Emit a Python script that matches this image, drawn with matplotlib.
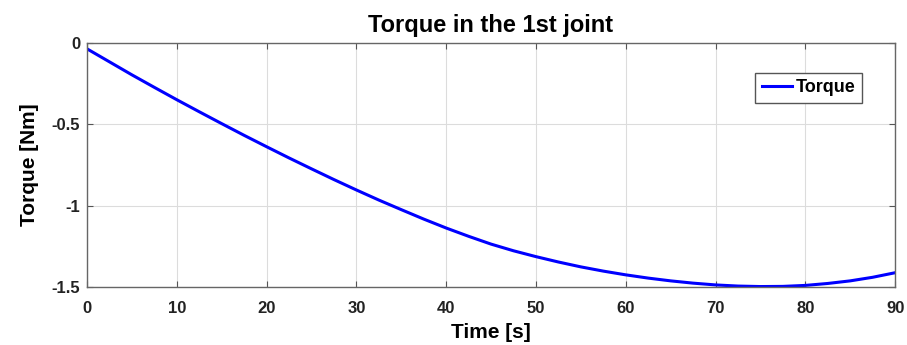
import numpy as np
import matplotlib.pyplot as plt

plt.rcParams['font.family'] = ['Liberation Sans', 'DejaVu Sans']

# time [s] and torque [Nm]
t = [0, 2.5, 5, 7.5, 10, 12.5, 15, 17.5, 20, 22.5, 25, 27.5, 30, 32.5, 35, 37.5,
     40, 42.5, 45, 47.5, 50, 52.5, 55, 57.5, 60, 62.5, 65, 67.5, 70, 72.5, 75,
     77.5, 80, 82.5, 85, 87.5, 90]
torque = [-0.035, -0.115, -0.195, -0.272, -0.348, -0.422, -0.495, -0.567, -0.637,
          -0.706, -0.773, -0.839, -0.903, -0.965, -1.024, -1.082, -1.137, -1.188,
          -1.236, -1.277, -1.313, -1.346, -1.376, -1.402, -1.425, -1.445, -1.462,
          -1.476, -1.487, -1.494, -1.497, -1.496, -1.490, -1.478, -1.462, -1.440,
          -1.412]

xticks = [0, 10, 20, 30, 40, 50, 60, 70, 80, 90]
yticks = [0, -0.5, -1, -1.5]
yticklabels = ['0', '-0.5', '-1', '-1.5']

fig = plt.figure(figsize=(9.07, 3.45), dpi=100)
ax = fig.add_axes([0.0959, 0.168, 0.891, 0.707])

ax.plot(t, torque, color='#0000ff', linewidth=2.2, label='Torque')

ax.set_xlim(0, 90)
ax.set_ylim(-1.5, 0)
ax.set_xticks(xticks)
ax.set_yticks(yticks)
ax.set_yticklabels(yticklabels)
ax.grid(True, color='#dcdcdc', linewidth=0.8)
ax.tick_params(direction='in', top=True, right=True, length=4, width=0.8,
               color='#555555', labelsize=12)
ax.tick_params(axis='x', pad=10)
ax.tick_params(axis='y', pad=5)
for lab in ax.get_xticklabels() + ax.get_yticklabels():
    lab.set_fontweight('bold')
    lab.set_color('#222222')
for sp in ax.spines.values():
    sp.set_color('#666666')
    sp.set_linewidth(1.0)

ax.set_title('Torque in the 1st joint', fontsize=17, fontweight='bold', pad=8)
ax.set_xlabel('Time [s]', fontsize=15, fontweight='bold', labelpad=5)
ax.set_ylabel('Torque [Nm]', fontsize=15, fontweight='bold', labelpad=9)

leg = ax.legend(loc='upper right', bbox_to_anchor=(0.959, 0.877), fontsize=13,
                handlelength=1.7, handletextpad=0.2, borderpad=0.35,
                borderaxespad=0, fancybox=False, framealpha=1,
                edgecolor='#555555')
for txt in leg.get_texts():
    txt.set_fontweight('bold')

fig.savefig('out.png', dpi=100)
